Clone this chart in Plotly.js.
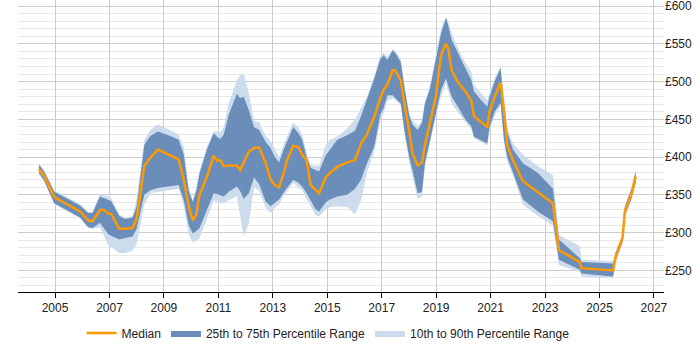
<!DOCTYPE html>
<html>
<head>
<meta charset="utf-8">
<script src="https://cdn.plot.ly/plotly-3.0.1.min.js"></script>
<style>html,body{margin:0;padding:0;background:#fff;}#chart{width:700px;height:350px;}</style>
</head>
<body>
<div id="chart"></div>
<script>
var years = [2004.41,2004.6,2004.97,2005.55,2005.92,2006.22,2006.38,2006.65,2006.8,2006.96,2007.06,2007.36,2007.57,2007.85,2008.0,2008.28,2008.5,2008.78,2009.17,2009.54,2009.73,2009.91,2010.06,2010.19,2010.31,2010.58,2010.83,2010.95,2011.07,2011.2,2011.38,2011.68,2011.8,2011.93,2012.12,2012.31,2012.5,2012.74,2012.92,2013.07,2013.23,2013.38,2013.53,2013.75,2013.94,2014.08,2014.24,2014.39,2014.57,2014.7,2014.94,2015.1,2015.37,2015.73,2016.02,2016.24,2016.46,2016.73,2016.95,2017.07,2017.21,2017.4,2017.49,2017.7,2017.85,2018.01,2018.13,2018.32,2018.48,2018.59,2018.77,2018.99,2019.18,2019.36,2019.44,2019.57,2019.79,2020.07,2020.29,2020.39,2020.66,2020.88,2020.96,2021.15,2021.37,2021.49,2021.61,2021.82,2022.19,2022.74,2023.29,2023.51,2024.28,2024.34,2025.5,2025.6,2025.85,2025.93,2026.18,2026.33];
var median = [384,375,347,335,328,316,315,330,330,325,325,305,305,306,318,388,399,410,403,397,370,335,316,324,350,374,402,395,396,388,389,389,383,392,407,412,413,392,370,363,360,377,396,415,413,403,396,363,357,352,373,379,387,393,396,418,430,454,478,489,496,515,515,502,467,436,405,389,393,416,445,480,535,550,544,515,500,487,475,454,446,440,460,480,499,462,416,396,368,353,339,277,261,253,250,269,293,328,352,374];
var p25 = [379,369,339,328,320,307,306,313,305,298,296,291,293,295,305,350,356,359,361,363,343,310,299,302,306,330,352,351,350,348,354,361,355,345,352,373,364,341,335,340,344,352,359,370,366,361,352,342,331,328,340,344,348,350,358,370,392,414,456,465,482,482,479,471,432,400,383,352,354,392,421,460,489,504,495,480,467,450,441,427,422,418,440,460,472,423,400,380,344,328,315,264,251,246,242,264,288,322,346,366];
var p75 = [390,381,354,343,336,326,326,348,346,344,342,322,318,320,335,416,428,434,429,423,403,355,341,355,379,410,432,427,424,430,456,484,478,480,462,440,436,420,412,400,393,408,420,440,432,423,400,386,383,381,402,410,423,429,435,454,476,504,530,535,529,541,538,526,489,455,443,436,445,471,490,530,564,584,575,555,538,518,502,487,475,467,480,500,518,467,433,410,392,379,358,291,266,261,259,274,297,334,358,381];
var p10 = [377,367,338,327,319,306,305,307,295,283,281,273,273,276,285,337,352,354,356,358,335,298,287,289,293,318,343,340,339,339,343,348,320,295,312,360,355,333,326,333,337,348,355,366,360,356,345,334,323,321,331,334,335,334,324,343,380,408,448,458,475,478,476,469,428,393,375,345,348,388,418,455,480,498,488,471,460,446,437,425,420,415,435,455,468,420,395,376,337,322,309,257,248,242,240,262,286,320,344,364];
var p90 = [392,383,356,345,338,327,328,351,350,348,346,324,320,322,345,423,436,443,437,430,413,360,343,360,382,414,434,434,433,440,471,502,508,511,485,448,446,428,421,410,400,415,428,446,439,430,406,390,388,389,416,423,427,438,450,465,480,508,535,538,533,543,541,530,492,459,449,441,449,474,494,535,570,586,580,564,545,525,513,495,485,475,485,505,520,476,440,418,403,388,376,297,282,264,262,276,299,336,360,385];
var tickYears = [2005,2007,2009,2011,2013,2015,2017,2019,2021,2023,2025,2027];
var tickValues = [250,300,350,400,450,500,550,600];

var lightColor = '#ccdcec';
var darkColor = '#6a8eb9';
var orange = '#ff9900';

var traces = [
  {x: years, y: p10, type: 'scatter', mode: 'lines', line: {width: 0, color: lightColor}, showlegend: false, hoverinfo: 'skip'},
  {x: years, y: p90, type: 'scatter', mode: 'lines', line: {width: 0, color: lightColor}, fill: 'tonexty', fillcolor: lightColor, name: '10th to 90th Percentile Range', legendrank: 3},
  {x: years, y: p25, type: 'scatter', mode: 'lines', line: {width: 0, color: darkColor}, showlegend: false, hoverinfo: 'skip'},
  {x: years, y: p75, type: 'scatter', mode: 'lines', line: {width: 0, color: darkColor}, fill: 'tonexty', fillcolor: darkColor, name: '25th to 75th Percentile Range', legendrank: 2},
  {x: years, y: median, type: 'scatter', mode: 'lines', line: {width: 2.5, color: orange}, name: 'Median', legendrank: 1}
];

var layout = {
  width: 700, height: 350,
  margin: {l: 18, r: 36, t: 0, b: 58},
  paper_bgcolor: '#fff', plot_bgcolor: '#fff',
  font: {family: 'Liberation Sans, Arial, sans-serif', size: 12, color: '#222'},
  showlegend: true,
  legend: {orientation: 'h', x: 0.48, xanchor: 'center', y: -0.14, yanchor: 'middle', font: {size: 12, color: '#222'}, traceorder: 'normal', itemwidth: 30},
  xaxis: {
    range: [2003.64, 2027.37], tickmode: 'array', tickvals: tickYears, ticktext: tickYears.map(String),
    showgrid: true, gridcolor: '#cccccc', gridwidth: 1,
    showline: true, linecolor: '#000', linewidth: 1,
    ticks: 'outside', ticklen: 5, tickcolor: '#000', zeroline: false, fixedrange: true
  },
  yaxis: {
    range: [221.4, 608], side: 'right', tickmode: 'array', tickvals: tickValues, ticktext: tickValues.map(function(v){return '£' + v;}),
    ticklabeloverflow: 'allow',
    showgrid: true, gridcolor: '#cccccc', gridwidth: 1,
    minor: {dtick: 10, tick0: 0, showgrid: true, gridcolor: '#e8e8e8', gridwidth: 1},
    showline: false, ticks: '', zeroline: false, fixedrange: true
  }
};

Plotly.newPlot('chart', traces, layout, {displayModeBar: false, staticPlot: true});
</script>
</body>
</html>
